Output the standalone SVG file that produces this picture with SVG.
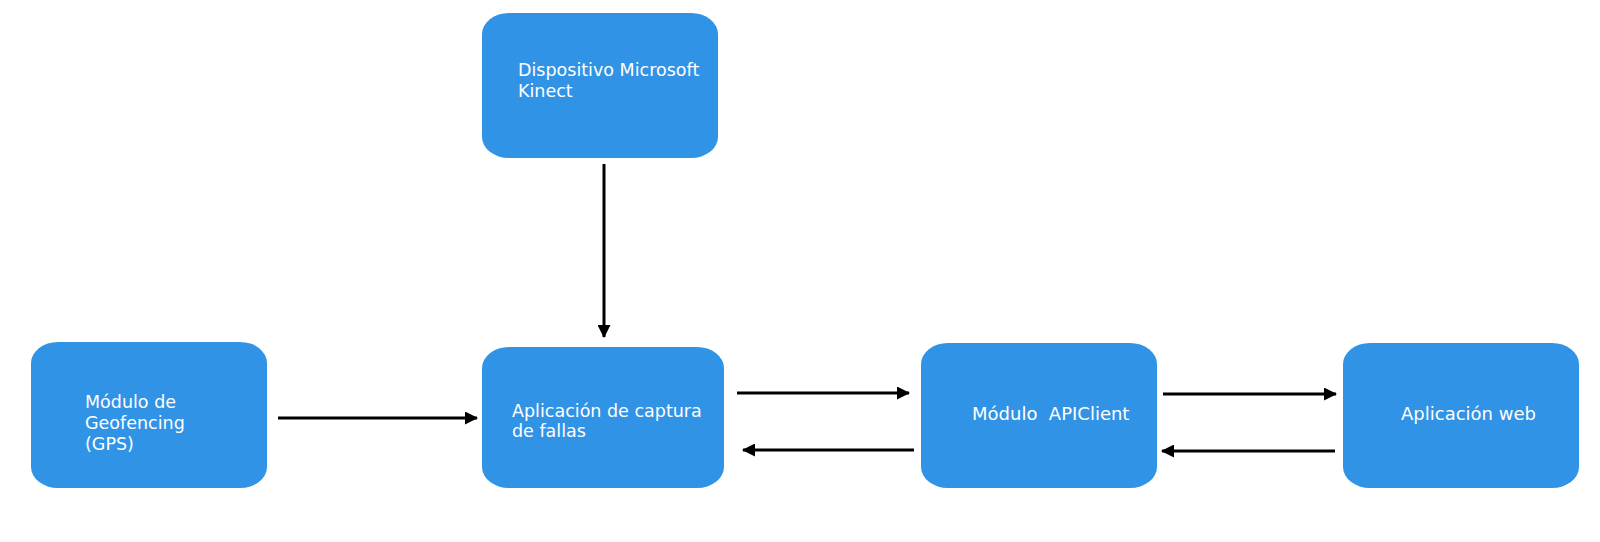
<svg xmlns="http://www.w3.org/2000/svg" width="1600" height="542" viewBox="0 0 1600 542">
<style>
.box{fill:#3193e6;}
.lbl{fill:#ffffff;font-family:"DejaVu Sans",sans-serif;font-size:17.5px;white-space:pre;}
.lg{font-size:18px;}
.conn{stroke:#000;stroke-width:3;fill:none;marker-end:url(#ah);}
</style>
<defs>
<marker id="ah" viewBox="0 0 13 13" refX="12" refY="6.5" markerWidth="13" markerHeight="13" markerUnits="userSpaceOnUse" orient="auto">
<path d="M0,0 L13,6.5 L0,13 z" fill="#000"/>
</marker>
</defs>
<rect width="1600" height="542" fill="#fff"/>
<g id="kinect">
<rect class="box" x="482" y="13" width="236" height="145" rx="27" ry="21"/>
<text class="lbl" x="518" y="76">Dispositivo Microsoft</text>
<text class="lbl" x="518" y="97">Kinect</text>
</g>
<g id="geofencing">
<rect class="box" x="31" y="342" width="236" height="146" rx="27" ry="21"/>
<text class="lbl" x="85" y="408">Módulo de</text>
<text class="lbl" x="85" y="429">Geofencing</text>
<text class="lbl" x="85" y="450">(GPS)</text>
</g>
<g id="captura">
<rect class="box" x="482" y="347" width="242" height="141" rx="27" ry="21"/>
<text class="lbl" x="512" y="417">Aplicación de captura</text>
<text class="lbl" x="512" y="437">de fallas</text>
</g>
<g id="apiclient">
<rect class="box" x="921" y="343" width="236" height="145" rx="27" ry="21"/>
<text class="lbl lg" x="972" y="420" xml:space="preserve">Módulo  APIClient</text>
</g>
<g id="web">
<rect class="box" x="1343" y="343" width="236" height="145" rx="27" ry="21"/>
<text class="lbl lg" x="1401" y="420">Aplicación web</text>
</g>
<g id="connectors">
<line class="conn" x1="604" y1="164" x2="604" y2="337"/>
<line class="conn" x1="278" y1="418" x2="477" y2="418"/>
<line class="conn" x1="737" y1="393" x2="909" y2="393"/>
<line class="conn" x1="914" y1="450" x2="743" y2="450"/>
<line class="conn" x1="1163" y1="394" x2="1336" y2="394"/>
<line class="conn" x1="1335" y1="451" x2="1162" y2="451"/>
</g>
</svg>
